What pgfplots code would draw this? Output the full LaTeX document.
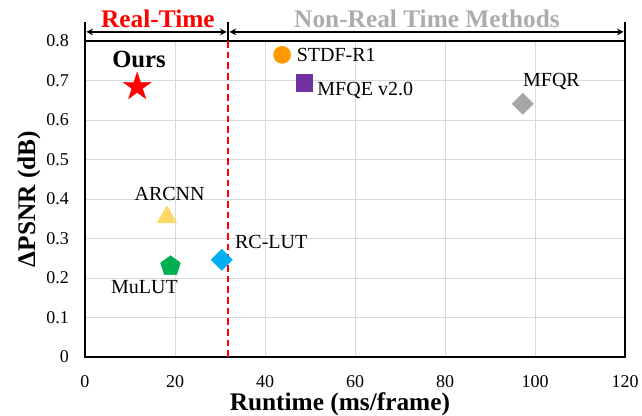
\documentclass[border=0pt]{standalone}
\usepackage{pgfplots}
\pgfplotsset{compat=1.18}
\usepackage{fontspec}
\setmainfont{Liberation Serif}
\usetikzlibrary{arrows.meta}
\definecolor{cstar}{RGB}{255,0,0}
\definecolor{corange}{RGB}{255,153,0}
\definecolor{cpurple}{RGB}{112,48,160}
\definecolor{cgray}{RGB}{166,166,166}
\definecolor{cyellow}{RGB}{255,217,102}
\definecolor{cgreen}{RGB}{0,176,80}
\definecolor{cblue}{RGB}{0,176,240}
\definecolor{ctitle}{RGB}{175,171,171}
\definecolor{cgrid}{RGB}{217,217,217}
\pgfdeclareplotmark{fstar}{%
  \pgfpathmoveto{\pgfqpointpolar{90}{\pgfplotmarksize}}%
  \pgfpathlineto{\pgfqpointpolar{126}{0.382\pgfplotmarksize}}%
  \pgfpathlineto{\pgfqpointpolar{162}{\pgfplotmarksize}}%
  \pgfpathlineto{\pgfqpointpolar{198}{0.382\pgfplotmarksize}}%
  \pgfpathlineto{\pgfqpointpolar{234}{\pgfplotmarksize}}%
  \pgfpathlineto{\pgfqpointpolar{270}{0.382\pgfplotmarksize}}%
  \pgfpathlineto{\pgfqpointpolar{306}{\pgfplotmarksize}}%
  \pgfpathlineto{\pgfqpointpolar{342}{0.382\pgfplotmarksize}}%
  \pgfpathlineto{\pgfqpointpolar{18}{\pgfplotmarksize}}%
  \pgfpathlineto{\pgfqpointpolar{54}{0.382\pgfplotmarksize}}%
  \pgfpathclose
  \pgfusepathqfillstroke
}
\begin{document}
\begin{tikzpicture}
\begin{axis}[
  scale only axis,
  width=405pt, height=237pt,
  xmin=0, xmax=120, ymin=0, ymax=0.8,
  xtick={0,20,...,120},
  ytick={0,0.1,...,0.8},
  yticklabel style={/pgf/number format/fixed, anchor=east, xshift=-8.5pt},
  xticklabel style={anchor=base, yshift=-23pt},
  /pgf/number format/assume math mode=true,
  tick label style={font=\fontsize{13.5}{15}\selectfont},
  grid=major,
  major grid style={draw=cgrid, line width=0.7pt},
  axis line style={line width=1.3pt},
  tick style={draw=none},
  xlabel={\textbf{Runtime (ms/frame)}},
  ylabel={\textbf{ΔPSNR (dB)}},
  label style={font=\fontsize{19}{21}\selectfont},
  xlabel style={at={(axis description cs:0.472,0)}, anchor=base, yshift=-40pt},
  ylabel style={at={(axis description cs:-0.1037,0.5)}, anchor=center},
  clip=false,
]
\addplot[only marks, mark=fstar, mark size=11pt, mark options={fill=cstar, draw=cstar, line width=0.3pt}] coordinates {(11.6,0.684)};
\addplot[only marks, mark=*, mark size=6.4pt, mark options={fill=corange, draw=corange}] coordinates {(43.8,0.765)};
\addplot[only marks, mark=square*, mark size=6.2pt, mark options={fill=cpurple, draw=cpurple}] coordinates {(48.7,0.694)};
\addplot[only marks, mark=square*, mark size=5.6pt, mark options={fill=cgray, draw=cgray, rotate=45}] coordinates {(97.3,0.641)};
\addplot[only marks, mark=triangle*, mark size=8.5pt, mark options={fill=cyellow, draw=cyellow}] coordinates {(18.2,0.354)};
\addplot[only marks, mark=pentagon*, mark size=7.8pt, mark options={fill=cgreen, draw=cgreen}] coordinates {(19.0,0.230)};
\addplot[only marks, mark=square*, mark size=5.6pt, mark options={fill=cblue, draw=cblue, rotate=45}] coordinates {(30.4,0.246)};
\addplot[red, line width=1.6pt, dash pattern=on 5pt off 3pt] coordinates {(31.8,0) (31.8,0.8)};
% labels
\node[anchor=base, inner sep=0pt, font=\bfseries\fontsize{18.5}{20}\selectfont] at (axis cs:12.0,0.732) {Ours};
\node[anchor=base west, inner sep=0pt, font=\fontsize{15}{17}\selectfont] at (axis cs:47.0,0.748) {STDF-R1};
\node[anchor=base west, inner sep=0pt, font=\fontsize{15}{17}\selectfont] at (axis cs:51.6,0.663) {MFQE v2.0};
\node[anchor=base west, inner sep=0pt, font=\fontsize{15}{17}\selectfont] at (axis cs:97.3,0.684) {MFQR};
\node[anchor=base, inner sep=0pt, font=\fontsize{15}{17}\selectfont] at (axis cs:18.8,0.396) {ARCNN};
\node[anchor=base west, inner sep=0pt, font=\fontsize{15}{17}\selectfont] at (axis cs:33.3,0.275) {RC-LUT};
\node[anchor=base, inner sep=0pt, font=\fontsize{15}{17}\selectfont] at (axis cs:13.2,0.161) {MuLUT};
% top annotation
\draw[line width=1.3pt] (axis cs:0,0.8) -- (axis cs:0,0.848);
\draw[line width=1.3pt] (axis cs:31.8,0.8) -- (axis cs:31.8,0.848);
\draw[line width=1.3pt] (axis cs:120,0.8) -- (axis cs:120,0.848);
\draw[line width=1.3pt, {Stealth[length=5pt,width=5pt]}-{Stealth[length=5pt,width=5pt]}] (axis cs:0.3,0.823) -- (axis cs:31.5,0.823);
\draw[line width=1.3pt, {Stealth[length=5pt,width=5pt]}-{Stealth[length=5pt,width=5pt]}] (axis cs:32.1,0.823) -- (axis cs:119.7,0.823);
\node[anchor=base, inner sep=0pt, font=\bfseries\fontsize{19}{21}\selectfont, text=red] at (axis cs:16.2,0.835) {Real-Time};
\node[anchor=base, inner sep=0pt, font=\bfseries\fontsize{19}{21}\selectfont, text=ctitle] at (axis cs:76,0.835) {Non-Real Time Methods};
\coordinate (bl) at (axis cs:0,0);
\coordinate (tr) at (axis cs:120,0.8);
\end{axis}
\path (bl) ++(-63.75pt,-44.25pt) coordinate (A);
\path (tr) ++(12.75pt,30.75pt) coordinate (B);
\pgfresetboundingbox
\path (A) rectangle (B);
\end{tikzpicture}
\end{document}
